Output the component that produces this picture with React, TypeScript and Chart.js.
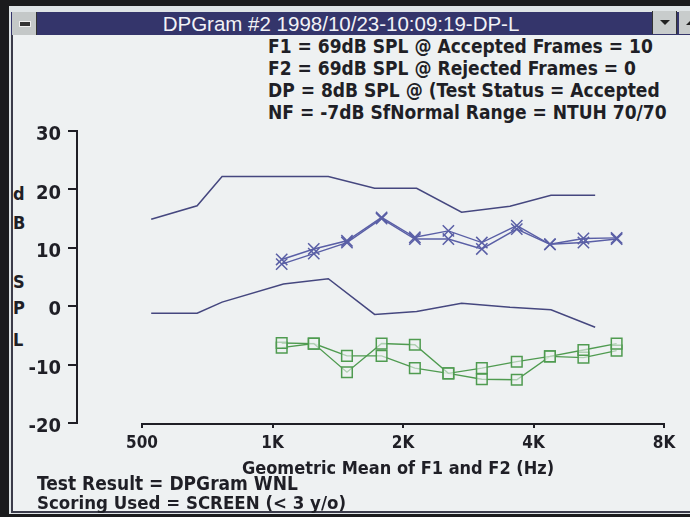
import React, { useEffect, useRef } from "react";
import { Chart, registerables } from "chart.js";

Chart.register(...registerables);

// ---- data ----
const xTicks = [500, 1000, 2000, 4000, 8000];
const xTickLabels = ["500", "1K", "2K", "4K", "8K"];
const yTicks = [-20, -10, 0, 10, 20, 30];

const normFreq = [525, 670, 765, 1060, 1345, 1720, 2150, 2730, 3530, 4390, 5550];
const normUpper = [14.9, 17.2, 22.2, 22.2, 22.2, 20.2, 20.2, 16.1, 17.1, 19.0, 19.0];
const normLower = [-1.2, -1.2, 0.7, 3.8, 4.7, -1.4, -0.9, 0.5, -0.2, -0.6, -3.6];

const dpFreq = [1050, 1245, 1485, 1785, 2130, 2545, 3040, 3660, 4365, 5215, 6220];
const dpRun1 = [8.0, 9.8, 11.2, 15.2, 11.8, 12.9, 10.9, 13.8, 10.6, 11.6, 11.7];
const dpRun2 = [7.2, 9.0, 10.9, 15.0, 11.5, 11.5, 9.8, 13.2, 10.6, 10.9, 11.5];
const nfRun1 = [-6.3, -6.4, -11.3, -6.4, -6.6, -11.5, -10.6, -9.5, -8.6, -7.5, -6.4];
const nfRun2 = [-7.1, -6.4, -8.5, -8.5, -10.6, -11.5, -12.5, -12.6, -8.6, -8.8, -7.6];

const headerLines = [
  "F1 = 69dB SPL @ Accepted Frames = 10",
  "F2 = 69dB SPL @ Rejected Frames = 0",
  "DP = 8dB SPL @ (Test Status = Accepted",
  "NF = -7dB SfNormal Range = NTUH 70/70",
];
const windowTitle = "DPGram #2 1998/10/23-10:09:19-DP-L";
const yTitleLetters = [
  { ch: "d", y: 194 },
  { ch: "B", y: 223 },
  { ch: "S", y: 282 },
  { ch: "P", y: 308 },
  { ch: "L", y: 340 },
];
const xTitle = "Geometric Mean of F1 and F2 (Hz)";
const footer1 = "Test Result = DPGram WNL";
const footer2 = "Scoring Used = SCREEN (< 3 y/o)";

const NARROW =
  '"Liberation Sans Narrow", "DejaVu Sans Condensed", "Arial Narrow", "Liberation Sans", sans-serif';
const SANS = '"Liberation Sans", Arial, sans-serif';

const NAVY = "#45477f";
const DPBLUE = "#5a5fa6";
const GREEN = "#4f9b50";
const INK = "#1f1f26";
const BG = "#eef1f2";

const pts = (xs: number[], ys: number[]) => xs.map((x, i) => ({ x, y: ys[i] }));

const xBaseline = {
  id: "xBaseline",
  afterDraw(chart: any) {
    const xs = chart.scales.x;
    const { ctx, chartArea } = chart;
    ctx.save();
    ctx.strokeStyle = INK;
    ctx.lineWidth = 2;
    ctx.beginPath();
    ctx.moveTo(xs.getPixelForValue(xTicks[0]) - 1, chartArea.bottom + 1);
    ctx.lineTo(xs.getPixelForValue(xTicks[xTicks.length - 1]) + 1, chartArea.bottom + 1);
    ctx.stroke();
    ctx.restore();
  },
};

function DPChart() {
  const ref = useRef<HTMLCanvasElement | null>(null);
  useEffect(() => {
    if (!ref.current) return;
    const lineDs = (label: string, data: any, color: string) => ({
      label,
      data,
      borderColor: color,
      borderWidth: 1.5,
      pointRadius: 0,
      fill: false,
      tension: 0,
    });
    const markDs = (label: string, data: any, color: string, style: string, radius: number) => ({
      label,
      data,
      borderColor: color,
      borderWidth: 1.4,
      pointStyle: style,
      pointRadius: radius,
      pointBorderWidth: 1.5,
      pointBorderColor: color,
      pointBackgroundColor: "rgba(238,241,242,0.6)",
      tension: 0,
    });
    const chart = new Chart(ref.current, {
      type: "line",
      data: {
        datasets: [
          lineDs("Normal upper", pts(normFreq, normUpper), NAVY),
          lineDs("Normal lower", pts(normFreq, normLower), NAVY),
          markDs("DP run 1", pts(dpFreq, dpRun1), DPBLUE, "crossRot", 8),
          markDs("DP run 2", pts(dpFreq, dpRun2), DPBLUE, "crossRot", 8),
          markDs("NF run 1", pts(dpFreq, nfRun1), GREEN, "rect", 7.5),
          markDs("NF run 2", pts(dpFreq, nfRun2), GREEN, "rect", 7.5),
        ],
      },
      options: {
        animation: false,
        responsive: false,
        events: [],
        layout: { padding: { left: 0, right: 26, top: 131, bottom: 64 } },
        plugins: { legend: { display: false }, tooltip: { enabled: false } },
        scales: {
          x: {
            type: "logarithmic",
            min: 354,
            max: 8000,
            afterFit: (s: any) => {
              s.height = 30;
            },
            afterBuildTicks: (s: any) => {
              s.ticks = xTicks.map((v) => ({ value: v }));
            },
            border: { display: false },
            grid: {
              drawOnChartArea: false,
              drawTicks: true,
              tickLength: 5,
              color: INK,
              lineWidth: 2,
            },
            ticks: {
              autoSkip: false,
              maxRotation: 0,
              padding: 5,
              color: INK,
              font: { family: NARROW, size: 17, weight: "bold" },
              callback: (_v: any, i: number) => xTickLabels[i],
            },
          },
          y: {
            min: -20,
            max: 30,
            afterFit: (s: any) => {
              s.width = 77;
            },
            afterBuildTicks: (s: any) => {
              s.ticks = yTicks.map((v) => ({ value: v }));
            },
            border: { display: true, color: INK, width: 2 },
            grid: {
              drawOnChartArea: false,
              drawTicks: true,
              tickLength: 9,
              color: INK,
              lineWidth: 2,
            },
            ticks: {
              padding: 7,
              labelOffset: 4,
              color: INK,
              font: { family: NARROW, size: 20, weight: "bold" },
            },
          },
        },
      },
      plugins: [xBaseline],
    } as any);
    return () => chart.destroy();
  }, []);
  return (
    <canvas
      ref={ref}
      width={690}
      height={517}
      style={{ position: "absolute", left: 0, top: 0, width: 690, height: 517 }}
    />
  );
}

const abs = (o: React.CSSProperties): React.CSSProperties => ({ position: "absolute", ...o });

const textStyle = (left: number, top: number, size: number): React.CSSProperties =>
  abs({
    left,
    top,
    height: 22,
    lineHeight: "22px",
    fontFamily: NARROW,
    fontWeight: "bold",
    fontSize: size,
    color: INK,
    whiteSpace: "nowrap",
  });

export default function App() {
  return (
    <div
      style={abs({
        position: "fixed",
        left: 0,
        top: 0,
        width: 690,
        height: 517,
        background: "#1b1b1d",
        overflow: "hidden",
      })}
    >
      {/* window frame */}
      <div style={abs({ left: 9, top: 6, width: 681, height: 508, background: "#dfe4e6" })} />
      {/* client area */}
      <div style={abs({ left: 11, top: 35, width: 679, height: 476, background: BG })} />
      <div style={abs({ left: 11, top: 35, width: 1.5, height: 476, background: "#3b3b4a" })} />
      <div style={abs({ left: 11, top: 511, width: 679, height: 2, background: "#3b3b4a" })} />
      {/* title bar */}
      <div style={abs({ left: 11, top: 12, width: 679, height: 23, background: "#34356b" })} />
      <div
        style={abs({
          left: 11,
          top: 12,
          width: 660,
          height: 23,
          lineHeight: "23px",
          textAlign: "center",
          color: "#f2f2f6",
          fontFamily: SANS,
          fontSize: 20.5,
          whiteSpace: "nowrap",
        })}
      >
        {windowTitle}
      </div>
      {/* control box */}
      <div
        style={abs({
          left: 12,
          top: 12,
          width: 25,
          height: 23,
          background: "#c4c8c8",
          borderRight: "1px solid #333",
          boxSizing: "border-box",
        })}
      >
        <div style={abs({ left: 7, top: 9, width: 10, height: 4, background: "#333", border: "1px solid #eee" })} />
      </div>
      {/* right buttons */}
      <div
        style={abs({
          left: 652,
          top: 11,
          width: 25,
          height: 23,
          background: "#c8cccc",
          borderLeft: "1px solid #333",
          borderRight: "1px solid #333",
          boxSizing: "border-box",
        })}
      >
        <div
          style={abs({
            left: 7,
            top: 9,
            width: 0,
            height: 0,
            borderLeft: "5px solid transparent",
            borderRight: "5px solid transparent",
            borderTop: "5px solid #222",
          })}
        />
      </div>
      <div style={abs({ left: 679, top: 11, width: 11, height: 23, background: "#c8cccc" })}>
        <div
          style={abs({
            left: 7,
            top: 9,
            width: 0,
            height: 0,
            borderLeft: "5px solid transparent",
            borderRight: "5px solid transparent",
            borderBottom: "5px solid #222",
          })}
        />
      </div>
      {/* header text */}
      {headerLines.map((t, i) => (
        <div key={i} style={textStyle(268, 35 + i * 22, 19)}>
          {t}
        </div>
      ))}
      {/* y axis title letters */}
      {yTitleLetters.map((l, i) => (
        <div key={i} style={textStyle(13, l.y - 11, 18)}>
          {l.ch}
        </div>
      ))}
      <DPChart />
      {/* x axis title */}
      <div style={{ ...textStyle(198, 457, 18), width: 400, textAlign: "center" }}>{xTitle}</div>
      <div style={textStyle(37, 472, 19)}>{footer1}</div>
      <div style={textStyle(37, 492, 18.5)}>{footer2}</div>
    </div>
  );
}
